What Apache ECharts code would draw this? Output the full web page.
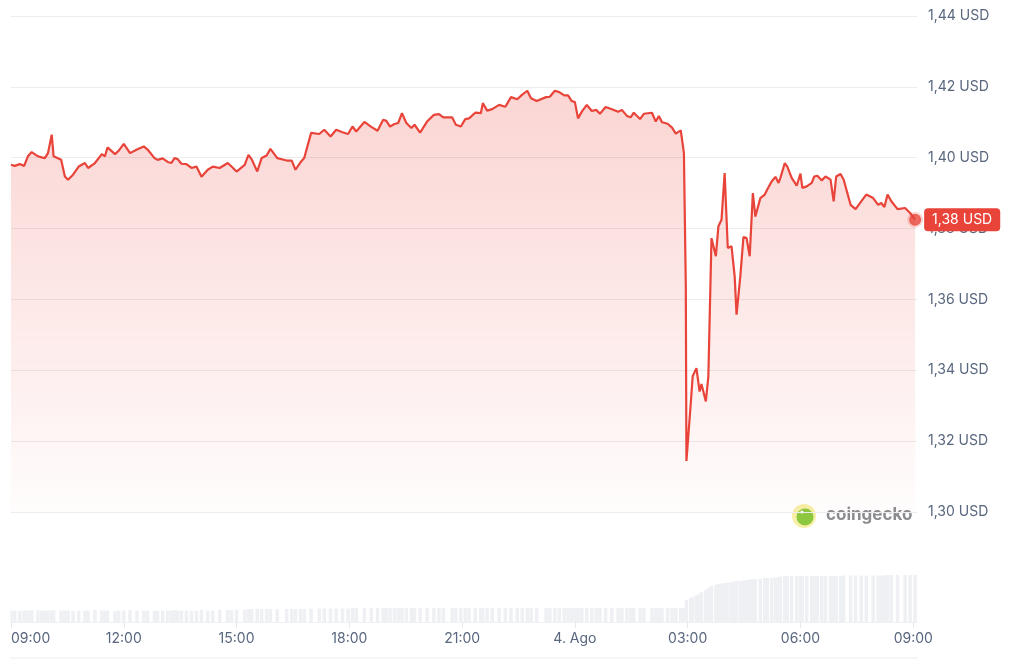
<!DOCTYPE html>
<html>
<head>
<meta charset="utf-8">
<title>Precio 24h</title>
<script src="https://cdn.jsdelivr.net/npm/echarts@6/dist/echarts.min.js"></script>
<style>
  html, body { margin: 0; padding: 0; background: #fff; }
  #chart { width: 1024px; height: 663px; }
</style>
</head>
<body>
<div id="chart"></div>
<script>
// 3 Aug 09:00 -> 4 Aug 09:00
const times = [
  '09:00', '09:06', '09:14', '09:21', '09:27', '09:33', '09:43', '09:49', '09:54', '09:59',
  '10:05', '10:08', '10:20', '10:26', '10:31', '10:39', '10:48', '10:58', '11:03', '11:14',
  '11:25', '11:30', '11:34', '11:46', '11:52', '12:00', '12:10', '12:21', '12:32', '12:38',
  '12:49', '12:54', '13:02', '13:10', '13:16', '13:21', '13:26', '13:32', '13:40', '13:48',
  '13:56', '14:04', '14:14', '14:22', '14:33', '14:46', '14:52', '15:00', '15:13', '15:19',
  '15:24', '15:33', '15:40', '15:48', '15:54', '16:05', '16:20', '16:28', '16:34', '16:42',
  '16:48', '16:59', '17:12', '17:20', '17:30', '17:39', '17:49', '17:58', '18:05', '18:11',
  '18:24', '18:35', '18:45', '18:54', '18:59', '19:05', '19:12', '19:18', '19:24', '19:31',
  '19:39', '19:44', '19:53', '20:04', '20:15', '20:23', '20:30', '20:44', '20:50', '20:58',
  '21:05', '21:11', '21:21', '21:30', '21:33', '21:40', '21:48', '21:59', '22:09', '22:18',
  '22:28', '22:36', '22:44', '22:50', '22:59', '23:14', '23:20', '23:28', '23:35', '23:43',
  '23:49', '23:55', '00:00', '00:05', '00:11', '00:19', '00:27', '00:34', '00:40', '00:49',
  '00:59', '01:09', '01:15', '01:23', '01:29', '01:34', '01:44', '01:50', '02:03', '02:09',
  '02:14', '02:19', '02:28', '02:35', '02:41', '02:49', '02:54', '02:57', '02:58', '03:05',
  '03:08', '03:14', '03:19', '03:22', '03:29', '03:33', '03:38', '03:45', '03:49', '03:54',
  '03:59', '04:04', '04:10', '04:15', '04:18', '04:24', '04:29', '04:34', '04:39', '04:44',
  '04:48', '04:56', '05:03', '05:07', '05:14', '05:20', '05:25', '05:28', '05:35', '05:39',
  '05:46', '05:54', '06:00', '06:03', '06:10', '06:18', '06:22', '06:27', '06:34', '06:40',
  '06:48', '06:53', '06:57', '07:04', '07:09', '07:20', '07:28', '07:37', '07:45', '07:56',
  '08:04', '08:09', '08:14', '08:19', '08:25', '08:35', '08:47', '08:55', '09:03'
];

const prices = [
  1.3980, 1.3977, 1.3982, 1.3977, 1.4004, 1.4016, 1.4004, 1.4001, 1.3999, 1.4013,
  1.4065, 1.4004, 1.3994, 1.3947, 1.3938, 1.3952, 1.3975, 1.3985, 1.3971, 1.3985,
  1.4010, 1.4004, 1.4029, 1.4010, 1.4020, 1.4039, 1.4013, 1.4023, 1.4032, 1.4023,
  1.3999, 1.3994, 1.3998, 1.3988, 1.3985, 1.3999, 1.3996, 1.3983, 1.3982, 1.3971,
  1.3975, 1.3946, 1.3966, 1.3975, 1.3971, 1.3985, 1.3975, 1.3961, 1.3980, 1.4008,
  1.3996, 1.3961, 1.3999, 1.4006, 1.4025, 1.3999, 1.3992, 1.3992, 1.3966, 1.3987,
  1.3999, 1.4070, 1.4067, 1.4079, 1.4060, 1.4079, 1.4072, 1.4067, 1.4088, 1.4074,
  1.4101, 1.4087, 1.4076, 1.4107, 1.4104, 1.4088, 1.4095, 1.4098, 1.4126, 1.4098,
  1.4084, 1.4093, 1.4071, 1.4102, 1.4121, 1.4123, 1.4114, 1.4114, 1.4093, 1.4088,
  1.4109, 1.4111, 1.4127, 1.4126, 1.4154, 1.4133, 1.4137, 1.4149, 1.4144, 1.4171,
  1.4165, 1.4178, 1.4189, 1.4168, 1.4160, 1.4171, 1.4172, 1.4189, 1.4185, 1.4176,
  1.4176, 1.4160, 1.4157, 1.4111, 1.4130, 1.4149, 1.4132, 1.4135, 1.4124, 1.4143,
  1.4137, 1.4130, 1.4135, 1.4118, 1.4114, 1.4127, 1.4109, 1.4124, 1.4127, 1.4102,
  1.4118, 1.4100, 1.4096, 1.4085, 1.4068, 1.4077, 1.4013, 1.3637, 1.3144, 1.3309,
  1.3383, 1.3406, 1.3340, 1.3361, 1.3312, 1.3383, 1.3773, 1.3722, 1.3806, 1.3825,
  1.3957, 1.3745, 1.3750, 1.3665, 1.3557, 1.3665, 1.3776, 1.3773, 1.3722, 1.3900,
  1.3834, 1.3886, 1.3896, 1.3910, 1.3933, 1.3946, 1.3929, 1.3943, 1.3985, 1.3975,
  1.3943, 1.3921, 1.3955, 1.3915, 1.3919, 1.3929, 1.3947, 1.3949, 1.3936, 1.3947,
  1.3938, 1.3877, 1.3947, 1.3954, 1.3938, 1.3867, 1.3855, 1.3877, 1.3896, 1.3886,
  1.3867, 1.3872, 1.3861, 1.3896, 1.3877, 1.3855, 1.3858, 1.3844, 1.3825
];

// volume bars, relative heights
const volumes = [
  11.5, 11.5, 11, 11.5, 11.5, 12, 11.5, 11.5, 11, 11.5,
  11.5, 12, 11.5, 11.5, 11.5, 11, 11.5, 11.5, 11.5, 12,
  11.5, 11.5, 11.5, 11, 11.5, 11.5, 12, 11.5, 11.5, 11.5,
  11.5, 11, 11.5, 11.5, 11.5, 12, 11.5, 11.5, 11.5, 11.5,
  11.5, 12, 11.5, 11.5, 12, 12, 12, 12.5, 12.5, 13,
  13, 13, 13, 13, 13, 13, 13, 13, 13, 13,
  13, 13.5, 13.5, 13.5, 13.5, 13.5, 13.5, 13.5, 14, 14,
  14, 14, 14, 14, 14, 14, 14, 14, 14, 14,
  14, 14, 14, 14, 14, 14, 14, 14, 14, 14,
  14, 14, 14, 14, 14, 14, 14, 14, 14, 14,
  14, 14, 14, 14, 14, 14, 14, 14, 14, 14,
  14, 14, 14, 14, 14, 14, 14, 14, 14, 14,
  14, 14, 14, 14, 14, 14, 14, 14, 14, 14,
  14, 14, 14, 14, 14, 14, 14, 14, 22, 24,
  25, 27, 28, 30, 32, 34, 36, 37, 38, 38.5,
  39, 39.5, 40, 40.5, 41, 41, 41.5, 42, 42.5, 43,
  43, 43.5, 44, 44, 44, 44.5, 45, 45.5, 46, 46,
  46, 46, 46, 46, 46, 46, 46, 46, 46, 46,
  46, 46, 46, 46, 46.5, 46.5, 46.5, 46.5, 46.5, 46.5,
  46.5, 46.5, 46.5, 47, 47, 47, 47, 47, 47
];

const tickLabels = ['09:00', '12:00', '15:00', '18:00', '21:00', '4. Ago', '03:00', '06:00', '09:00'];
const priceTicks = [1.30, 1.32, 1.34, 1.36, 1.38, 1.40, 1.42, 1.44];

const RED = '#e9443a';
const LABEL = '#58667e';

// minutes since 09:00, rolling over midnight
let dayOffset = 0, prev = -1;
const minutes = times.map(function (s) {
  const p = s.split(':');
  let m = (+p[0]) * 60 + (+p[1]) - 540 + dayOffset;
  if (m < prev) { dayOffset += 1440; m += 1440; }
  prev = m;
  return m;
});

const priceData = minutes.map((m, i) => [m, prices[i]]);
const volumeData = minutes.map((m, i) => [m, volumes[i]]);
const last = priceData[priceData.length - 1];

const tickValues = tickLabels.map((_, i) => i * 180);
const fmtPrice = v => v.toFixed(2).replace('.', ',') + ' USD';

const chart = echarts.init(document.getElementById('chart'));
chart.setOption({
  animation: false,
  textStyle: { fontFamily: 'Inter, sans-serif' },
  grid: [
    { left: 11, right: 107, top: 16, height: 496 },
    { left: 11, right: 107, top: 575, height: 47 }
  ],
  xAxis: [
    {
      type: 'value', gridIndex: 0, min: 0, max: 1446, show: false
    },
    {
      type: 'value', gridIndex: 1, min: 0, max: 1446,
      axisLine: { show: true, lineStyle: { color: '#f0f1f3' } },
      axisTick: {
        show: true, length: 6, customValues: tickValues,
        lineStyle: { color: '#e6e8eb' }
      },
      splitLine: { show: false },
      axisLabel: {
        customValues: tickValues,
        margin: 10,
        fontSize: 14,
        color: LABEL,
        alignMinLabel: 'left',
        formatter: v => tickLabels[Math.round(v / 180)]
      }
    }
  ],
  yAxis: [
    {
      type: 'value', gridIndex: 0, position: 'right',
      min: priceTicks[0], max: priceTicks[priceTicks.length - 1], interval: 0.02,
      axisLine: { show: false },
      axisTick: { show: false },
      splitLine: { lineStyle: { color: '#ececec', width: 1 } },
      axisLabel: { margin: 11, fontSize: 14, color: LABEL, formatter: fmtPrice }
    },
    {
      type: 'value', gridIndex: 1, min: 0, max: 47, show: false
    }
  ],
  series: [
    {
      type: 'line',
      xAxisIndex: 0, yAxisIndex: 0,
      data: priceData,
      symbol: 'none',
      lineStyle: { color: RED, width: 2.2 },
      areaStyle: {
        color: new echarts.graphic.LinearGradient(0, 0, 0, 1, [
          { offset: 0, color: 'rgba(234,68,58,0.32)' },
          { offset: 1, color: 'rgba(234,68,58,0.02)' }
        ])
      },
      endLabel: {
        show: true,
        distance: 9,
        formatter: p => fmtPrice(p.value[1]),
        backgroundColor: RED,
        color: '#fff',
        fontSize: 14,
        padding: [5, 8, 4, 8],
        borderRadius: 4
      },
      z: 3
    },
    {
      type: 'scatter',
      xAxisIndex: 0, yAxisIndex: 0,
      data: [last],
      symbolSize: 12,
      itemStyle: { color: RED, borderColor: 'rgba(234,68,58,0.25)', borderWidth: 4 },
      z: 4
    },
    {
      type: 'bar',
      xAxisIndex: 1, yAxisIndex: 1,
      data: volumeData,
      barWidth: 3.5,
      itemStyle: { color: '#eef0f3' }
    }
  ],
  graphic: [
    { type: 'circle', shape: { cx: 804, cy: 516, r: 12 }, style: { fill: '#f6f0a6' } },
    { type: 'circle', shape: { cx: 805, cy: 517, r: 8.5 }, style: { fill: '#8dc63f' } },
    { type: 'circle', shape: { cx: 802, cy: 512, r: 1.6 }, style: { fill: '#ffffff' } },
    {
      type: 'text', left: 826, top: 506,
      style: { text: 'coingecko', font: 'bold 17px Inter, sans-serif', fill: '#8a8c8f' }
    },
    {
      type: 'line', shape: { x1: 10, y1: 658, x2: 918, y2: 658 },
      style: { stroke: '#eeeeee', lineWidth: 1 }
    }
  ]
});
</script>
</body>
</html>
